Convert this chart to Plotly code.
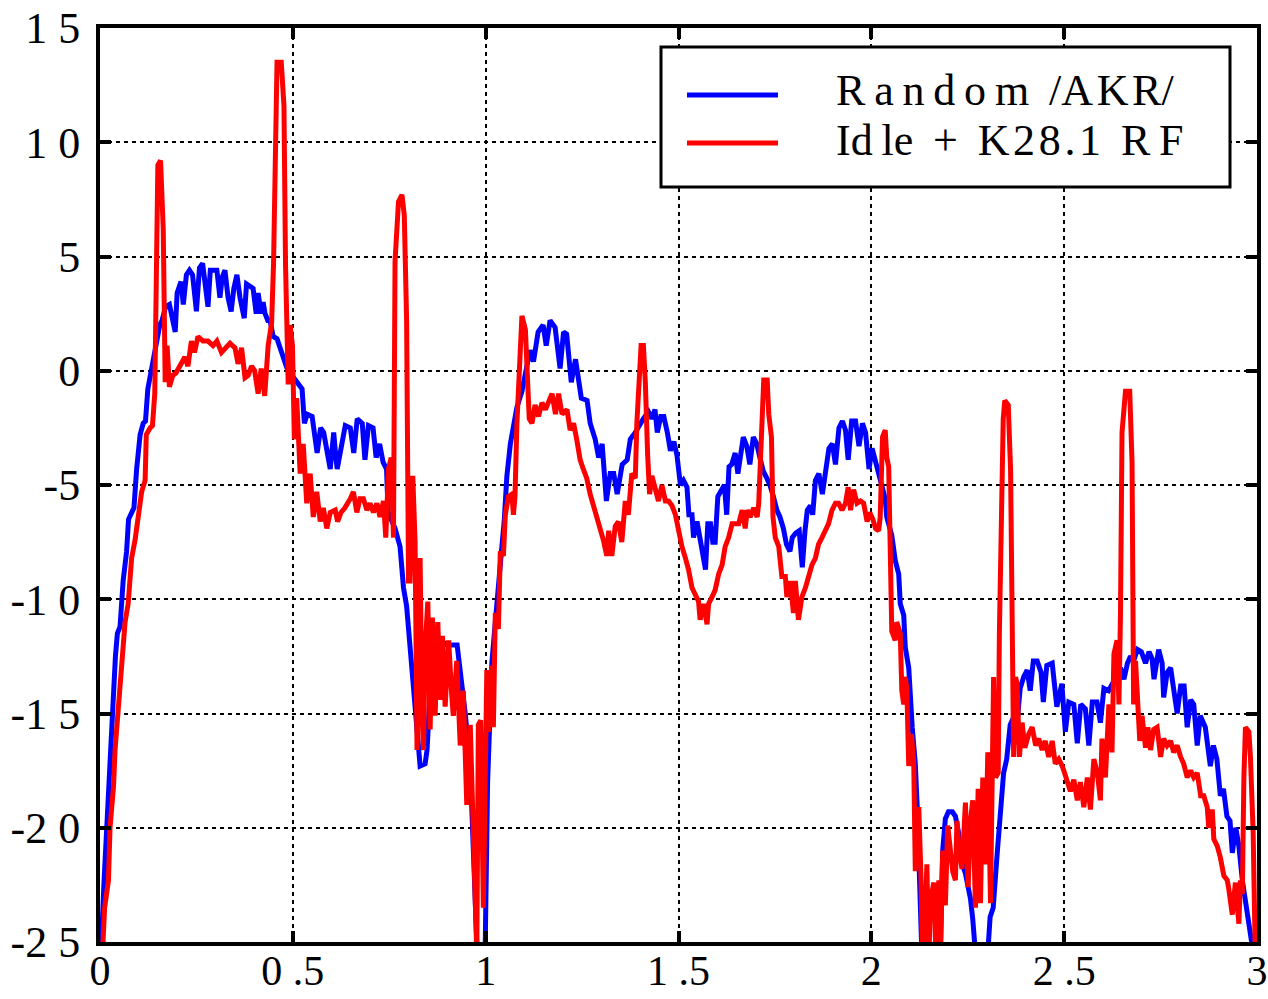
import plotly.graph_objects as go

# ---------------- data ----------------
blue_x = [0.000, 0.004, 0.010, 0.017, 0.026, 0.034, 0.040, 0.045, 0.052, 0.060, 0.069, 0.074, 0.082, 0.088,
          0.095, 0.104, 0.112, 0.118, 0.124, 0.130, 0.140, 0.148, 0.155, 0.161, 0.170, 0.180, 0.195, 0.200,
          0.210, 0.216, 0.224, 0.232, 0.240, 0.250, 0.258, 0.266, 0.272, 0.280, 0.286, 0.295, 0.303, 0.311,
          0.317, 0.324, 0.332, 0.340, 0.347, 0.355, 0.363, 0.374, 0.380, 0.389, 0.397, 0.405, 0.410, 0.418,
          0.423, 0.428, 0.435, 0.441, 0.449, 0.459, 0.467, 0.475, 0.485, 0.493, 0.505,
          0.513, 0.524, 0.530, 0.537, 0.550, 0.563, 0.572, 0.580, 0.597, 0.606, 0.610, 0.615, 0.636, 0.649,
          0.658, 0.667, 0.680, 0.687, 0.696, 0.708, 0.716, 0.725, 0.734, 0.743, 0.747, 0.765, 0.778, 0.787,
          0.795, 0.804, 0.813, 0.821, 0.830, 0.843, 0.848, 0.856, 0.869, 0.882, 0.900, 0.926, 0.934, 0.947,
          0.960, 0.969, 0.978, 0.990, 0.999, 1.005, 1.010, 1.016, 1.025, 1.033, 1.042, 1.048, 1.055, 1.064,
          1.072, 1.081, 1.094, 1.107, 1.115, 1.124, 1.136, 1.149, 1.157, 1.167, 1.180, 1.193, 1.202, 1.210,
          1.222, 1.233, 1.240, 1.248, 1.263, 1.271, 1.284, 1.293, 1.302, 1.313, 1.323, 1.332, 1.341, 1.354,
          1.367, 1.375, 1.388, 1.401, 1.409, 1.422, 1.431, 1.439, 1.445, 1.454, 1.462, 1.471, 1.479, 1.488,
          1.496, 1.505, 1.513, 1.522, 1.527, 1.535, 1.539, 1.548, 1.557, 1.565, 1.570, 1.576, 1.583, 1.589,
          1.595, 1.602, 1.611, 1.619, 1.625, 1.631, 1.638, 1.647, 1.654, 1.660, 1.668, 1.677, 1.685, 1.694,
          1.703, 1.711, 1.720, 1.729, 1.737, 1.746, 1.755, 1.763, 1.772, 1.780, 1.789, 1.795, 1.804, 1.813,
          1.821, 1.828, 1.834, 1.842, 1.848, 1.855, 1.864, 1.873, 1.881, 1.890, 1.899, 1.907, 1.916, 1.925,
          1.933, 1.940, 1.949, 1.959, 1.968, 1.977, 1.985, 1.994, 2.002, 2.015, 2.028, 2.036, 2.040, 2.053,
          2.062, 2.071, 2.075, 2.084, 2.088, 2.097, 2.106, 2.114, 2.119, 2.127, 2.132, 2.178, 2.185, 2.192,
          2.200, 2.210, 2.218, 2.226, 2.234, 2.244, 2.257, 2.263, 2.270, 2.285, 2.300, 2.308, 2.316, 2.326,
          2.334, 2.343, 2.351, 2.360, 2.368, 2.378, 2.386, 2.395, 2.404, 2.412, 2.420, 2.430, 2.440, 2.446,
          2.455, 2.469, 2.481, 2.494, 2.503, 2.512, 2.525, 2.534, 2.543, 2.555, 2.564, 2.573, 2.585, 2.594,
          2.603, 2.615, 2.625, 2.639, 2.646, 2.655, 2.664, 2.672, 2.680, 2.690, 2.700, 2.711, 2.720, 2.728,
          2.733, 2.745, 2.754, 2.758, 2.767, 2.776, 2.785, 2.793, 2.802, 2.811, 2.819, 2.828, 2.836, 2.845,
          2.853, 2.866, 2.879, 2.887, 2.896, 2.905, 2.913, 2.922, 2.930, 2.936, 2.945, 2.953, 2.962, 2.970,
          2.978, 2.987, 2.995]
blue_y = [-26, -25, -22.5, -20, -17.9, -15, -12.5, -11.5, -11.2, -9.2, -7.9, -6.5, -6.2, -6.0,
          -4.3, -2.8, -2.3, -2.2, -0.8, -0.3, 0.5, 1.3, 2.0, 2.2, 2.8, 2.9, 1.7, 3.4,
          3.9, 2.9, 4.2, 4.4, 4.2, 2.6, 4.5, 4.7, 3.8, 2.8, 4.4, 4.4, 4.4, 3.2,
          4.1, 4.4, 3.2, 2.6, 3.6, 4.2, 3.2, 2.3, 3.8, 3.7, 3.6, 2.5, 3.4, 2.5,
          3.0, 2.5, 2.2, 2.2, 1.5, 1.4, 1.0, 0.6, 0.1, -0.1, -0.4,
          -0.6, -0.8, -2.3, -1.9, -2.0, -3.6, -2.5, -2.7, -4.3, -2.7, -3.5, -4.3, -2.4, -2.5,
          -3.6, -2.1, -2.3, -3.9, -2.4, -2.5, -3.8, -3.2, -4.0, -4.3, -6.2, -6.9, -7.7, -9.5,
          -10.3, -12.0, -13.8, -15.3, -17.3, -17.2, -16.6, -14.0, -12.5, -11.8, -12.0, -12.0, -13.1, -15.0,
          -17.3, -21.6, -25.5, -26, -25, -18, -14.9, -12.8, -11.0, -9.2, -7.7, -6.6, -4.6, -3.2,
          -2.3, -1.6, -0.9, 0.2, 0.9, 0.4, 1.7, 2.0, 1.1, 2.2, 1.9, 0.1, 1.7, 1.6,
          -0.5, 0.5, -0.5, -1.2, -1.3, -2.3, -3.0, -3.8, -3.2, -5.7, -4.5, -4.5, -5.4, -4.1,
          -3.9, -3.0, -2.7, -2.3, -2.1, -1.8, -2.1, -1.7, -2.7, -2.0, -2.0, -2.7, -3.5, -3.1,
          -3.7, -5.0, -4.8, -5.1, -6.3, -6.3, -7.3, -6.6, -7.4, -8.0, -8.7, -6.7, -6.7, -7.5,
          -7.5, -5.5, -5.2, -5.0, -6.3, -4.2, -4.1, -3.6, -4.5, -3.9, -2.9, -3.3, -4.1, -2.9,
          -3.2, -3.8, -4.4, -4.7, -5.0, -5.5, -6.1, -6.4, -6.9, -7.6, -7.9, -7.3, -7.1, -7.0,
          -8.6, -7.0, -6.1, -5.9, -6.3, -4.8, -4.5, -5.4, -4.4, -3.4, -3.2, -4.1, -2.5, -2.2,
          -2.6, -3.9, -2.2, -2.2, -3.3, -2.3, -2.7, -4.3, -3.4, -4.3, -5.0, -5.6, -6.4, -7.2,
          -8.3, -8.9, -10.2, -10.7, -12.1, -13.0, -15.6, -17.2, -19.1, -22.6, -26, -26, -21, -19.6,
          -19.3, -19.3, -19.5, -20.2, -21.5, -22.0, -23.1, -24.0, -25.5, -26, -26, -23.9, -23.5, -21.2,
          -19.3, -17.6, -17.0, -15.5, -15.2, -15.4, -13.9, -13.4, -13.1, -14.0, -12.7, -12.7, -13.2, -14.5,
          -12.9, -12.8, -14.7, -13.7, -15.8, -14.5, -14.6, -16.3, -14.6, -14.8, -16.4, -14.5, -14.5, -15.4,
          -13.9, -14.0, -13.7, -13.3, -13.0, -13.5, -12.8, -12.5, -12.7, -12.2, -12.3, -12.8, -12.3, -12.6,
          -13.5, -12.2, -12.8, -14.3, -13.2, -13.0, -14.3, -15.0, -13.8, -13.8, -15.6, -14.4, -14.6, -16.4,
          -15.1, -15.6, -17.3, -16.4, -17.0, -18.6, -18.3, -19.5, -19.7, -21.1, -20.0, -20.8, -22.3, -23.2,
          -24.1, -25.5, -26]

red_x = [0.000, 0.005, 0.012, 0.022, 0.026, 0.035, 0.039, 0.048, 0.056, 0.065, 0.073, 0.082, 0.091, 0.100,
         0.108, 0.117, 0.120, 0.130, 0.136, 0.142, 0.145, 0.150, 0.157, 0.164, 0.169, 0.174, 0.180, 0.189,
         0.197, 0.210, 0.220, 0.228, 0.237, 0.245, 0.254, 0.267, 0.280, 0.293, 0.303, 0.315, 0.324, 0.337,
         0.350, 0.358, 0.367, 0.376, 0.384, 0.393, 0.401, 0.410, 0.418, 0.427, 0.436, 0.445, 0.450, 0.454,
         0.459, 0.470, 0.477, 0.481, 0.484, 0.488, 0.493, 0.499, 0.504, 0.510, 0.519, 0.527, 0.536, 0.545,
         0.553, 0.562, 0.571, 0.579, 0.588, 0.597, 0.610, 0.616, 0.625, 0.635, 0.649, 0.657, 0.666, 0.674,
         0.683, 0.692, 0.700, 0.709, 0.718, 0.726, 0.735, 0.741, 0.748, 0.755, 0.761, 0.765, 0.774, 0.783,
         0.789, 0.795, 0.800, 0.804, 0.811, 0.817, 0.822, 0.826, 0.830, 0.835, 0.839, 0.843, 0.850, 0.856,
         0.862, 0.869, 0.876, 0.882, 0.888, 0.895, 0.904, 0.912, 0.916, 0.925, 0.934, 0.942, 0.951, 0.960,
         0.968, 0.977, 0.981, 0.987, 0.994, 0.998, 1.003, 1.007, 1.016, 1.020, 1.025, 1.033, 1.038, 1.046,
         1.051, 1.059, 1.068, 1.072, 1.076, 1.081, 1.088, 1.094, 1.103, 1.107, 1.113, 1.120, 1.128, 1.137,
         1.146, 1.155, 1.163, 1.172, 1.181, 1.189, 1.198, 1.211, 1.219, 1.228, 1.236, 1.245, 1.253, 1.262,
         1.271, 1.280, 1.288, 1.297, 1.305, 1.314, 1.319, 1.327, 1.336, 1.344, 1.353, 1.362, 1.370, 1.379,
         1.388, 1.392, 1.399, 1.403, 1.409, 1.414, 1.420, 1.425, 1.431, 1.440, 1.448, 1.457, 1.466, 1.474,
         1.483, 1.492, 1.500, 1.509, 1.518, 1.526, 1.535, 1.544, 1.552, 1.556, 1.565, 1.574, 1.578, 1.587,
         1.595, 1.604, 1.613, 1.621, 1.630, 1.639, 1.647, 1.656, 1.665, 1.673, 1.678, 1.686, 1.695, 1.704,
         1.708, 1.715, 1.721, 1.730, 1.734, 1.741, 1.745, 1.751, 1.760, 1.768, 1.777, 1.781, 1.790, 1.798,
         1.803, 1.811, 1.820, 1.829, 1.837, 1.846, 1.855, 1.863, 1.872, 1.881, 1.889, 1.898, 1.907, 1.915,
         1.924, 1.933, 1.940, 1.946, 1.954, 1.963, 1.972, 1.980, 1.989, 1.996, 2.004, 2.011, 2.019, 2.023,
         2.029, 2.036, 2.040, 2.045, 2.049, 2.053, 2.062, 2.066, 2.075, 2.079, 2.084, 2.088, 2.092, 2.097,
         2.104, 2.110, 2.114, 2.123, 2.129, 2.133, 2.140, 2.144, 2.149, 2.153, 2.162, 2.168, 2.175, 2.179,
         2.185, 2.192, 2.198, 2.205, 2.211, 2.218, 2.222, 2.228, 2.235, 2.244, 2.251, 2.257, 2.263, 2.270,
         2.277, 2.283, 2.289, 2.296, 2.302, 2.309, 2.313, 2.317, 2.322, 2.329, 2.332, 2.337, 2.342, 2.346,
         2.355, 2.361, 2.365, 2.369, 2.374, 2.378, 2.384, 2.391, 2.398, 2.408, 2.417, 2.426, 2.434, 2.443,
         2.451, 2.460, 2.469, 2.477, 2.486, 2.495, 2.503, 2.508, 2.516, 2.525, 2.534, 2.542, 2.551, 2.560,
         2.568, 2.577, 2.586, 2.594, 2.598, 2.607, 2.616, 2.624, 2.629, 2.637, 2.642, 2.646, 2.650, 2.659,
         2.670, 2.676, 2.680, 2.685, 2.691, 2.696, 2.702, 2.711, 2.717, 2.724, 2.732, 2.741, 2.750, 2.758,
         2.767, 2.776, 2.784, 2.793, 2.802, 2.810, 2.819, 2.828, 2.836, 2.845, 2.854, 2.862, 2.871, 2.875,
         2.884, 2.888, 2.897, 2.905, 2.914, 2.923, 2.927, 2.936, 2.944, 2.953, 2.957, 2.962, 2.966, 2.970,
         2.979, 2.983, 2.990, 2.996]
red_y = [-26, -26, -23.5, -22.3, -20, -18.2, -16.6, -14.8, -12.8, -11.0, -10.2, -8.2, -7.4, -6.1,
         -5.3, -4.8, -2.8, -2.5, -2.4, -1.0, 4.7, 9.0, 9.2, 6.2, -0.5, 1.1, -0.7, -0.2,
         -0.1, 0.3, 0.6, 0.2, 1.3, 0.8, 1.5, 1.3, 1.3, 1.1, 1.3, 0.8, 1.0, 1.2,
         1.0, 0.3, 1.0, -0.3, -0.2, 0.2, 0.0, -1.0, 0.1, -1.1, 1.1, 2.1, 4.7, 8.5,
         13.5, 13.5, 11.6, 4.7, 2.0, -0.6, 2.0, 1.1, -3.0, -1.2, -4.5, -3.2, -5.8, -4.5,
         -6.4, -5.3, -6.6, -6.0, -6.9, -6.2, -6.1, -6.6, -6.2, -6.0, -5.6, -5.3, -6.2, -5.6,
         -5.6, -6.1, -5.8, -6.2, -5.8, -6.4, -5.7, -7.3, -4.3, -3.8, -7.3, 4.8, 7.4, 7.7,
         6.8, 2.2, -9.2, -9.2, -4.6, -7.5, -16.6, -12.9, -8.2, -15.1, -16.6, -12.1, -10.1, -15.7,
         -10.8, -15.1, -11.0, -14.4, -11.6, -14.7, -11.8, -14.2, -15.1, -12.7, -16.4, -14.0, -19.0, -15.5,
         -19.4, -25.5, -15.5, -15.3, -23.5, -18.5, -13.1, -15.8, -12.9, -15.6, -10.6, -11.3, -7.9, -8.1,
         -6.3, -5.5, -5.4, -6.3, -5.5, -2.3, 0.9, 2.4, 1.8, -0.1, -2.1, -2.3, -1.5, -2.0,
         -1.4, -1.7, -1.3, -1.0, -1.9, -1.0, -1.9, -1.7, -2.6, -2.3, -3.0, -3.9, -4.3, -4.7,
         -5.4, -5.9, -6.5, -7.0, -7.4, -8.1, -7.0, -8.1, -6.8, -6.6, -7.5, -5.7, -6.3, -4.5,
         -4.7, -2.3, -0.5, 1.1, 1.1, -0.5, -3.7, -5.4, -4.6, -5.2, -5.7, -5.0, -5.7, -5.7,
         -5.9, -6.3, -7.1, -7.7, -8.2, -8.7, -9.5, -9.8, -10.1, -10.9, -10.2, -11.1, -10.2, -9.9,
         -9.6, -8.9, -8.5, -7.7, -7.3, -6.7, -6.7, -6.7, -6.1, -6.9, -6.1, -6.4, -6.0, -6.4,
         -5.8, -2.6, -0.4, -0.4, -1.9, -2.9, -6.4, -7.3, -7.7, -9.0, -9.0, -9.9, -9.2, -10.6,
         -9.2, -10.9, -9.9, -9.5, -9.0, -8.5, -8.2, -7.6, -7.3, -7.0, -6.7, -6.1, -5.8, -5.8,
         -6.1, -5.8, -5.1, -6.1, -5.2, -5.8, -5.7, -5.8, -6.6, -6.2, -6.5, -6.9, -7.0, -6.4,
         -2.9, -2.6, -3.8, -4.2, -8.1, -11.4, -11.8, -11.0, -11.5, -14.0, -14.6, -13.4, -13.9, -17.3,
         -15.9, -17.2, -21.9, -19.1, -22.3, -26, -23.8, -21.6, -26, -23.2, -22.4, -26, -22.3, -26,
         -21.0, -23.4, -19.9, -21.0, -21.9, -22.3, -19.7, -21.0, -21.8, -18.9, -22.6, -19.7, -18.8, -23.5,
         -18.3, -23.3, -17.8, -21.6, -16.7, -23.3, -15.0, -13.4, -17.8, -17.6, -11.5, -5.1, -2.1, -1.3,
         -1.5, -4.3, -11.5, -16.9, -13.4, -13.7, -16.9, -15.4, -16.5, -15.9, -15.6, -16.4, -16.1, -16.6,
         -16.2, -16.9, -16.2, -17.2, -17.0, -17.3, -17.7, -18.0, -18.4, -17.9, -18.8, -18.0, -19.1, -17.8,
         -19.2, -17.0, -17.6, -18.8, -16.1, -17.8, -14.6, -16.7, -12.4, -11.8, -14.6, -10.7, -2.7, -0.9,
         -0.9, -4.0, -14.6, -12.7, -14.3, -16.2, -15.1, -16.5, -15.6, -16.6, -15.7, -15.6, -16.9, -16.1,
         -16.4, -16.2, -16.7, -16.4, -16.9, -17.2, -17.8, -17.5, -17.8, -17.6, -18.6, -18.6, -19.1, -20.0,
         -19.2, -20.5, -20.8, -21.3, -22.1, -22.3, -22.7, -23.8, -22.4, -24.2, -22.3, -22.9, -17.8, -15.6,
         -15.8, -16.9, -20.2, -26]

series_names = ["Random /AKR/", "Idle + K28.1 RF"]
legend_labels = ["R\u2009a\u2009n\u2009d\u2009o\u2009m \u2009/A\u200aK\u200aR/",
                 "Id\u2009le \u2009+ \u2009K\u200a2\u200a8\u200a.\u200a1 \u2009R\u2009F"]
x_tick_vals = [0, 0.5, 1, 1.5, 2, 2.5, 3]
x_tick_text = ["0", "0 .5", "1", "1 .5", "2", "2 .5", "3"]
y_tick_vals = [15, 10, 5, 0, -5, -10, -15, -20, -25]
y_tick_text = ["1 5", "1 0", "5", "0", "-5", "-1 0", "-1 5", "-2 0", "-2 5"]

BLUE = "#0000ff"
RED = "#ff0000"
FONT = "Liberation Serif"

fig = go.Figure()
fig.add_trace(go.Scatter(x=blue_x, y=blue_y, mode="lines", name=series_names[0],
                         line=dict(color=BLUE, width=5), showlegend=False))
fig.add_trace(go.Scatter(x=red_x, y=red_y, mode="lines", name=series_names[1],
                         line=dict(color=RED, width=5), showlegend=False))

axis_common = dict(
    showline=True, linecolor="black", linewidth=4, mirror="ticks",
    ticks="inside", ticklen=11, tickwidth=4, tickcolor="black",
    showgrid=True, gridcolor="black", gridwidth=2, griddash="4px,4px",
    zeroline=False, automargin=False,
)
fig.update_xaxes(range=[0, 3], tickvals=x_tick_vals, ticktext=x_tick_text,
                 ticklabelstandoff=-11, tickfont=dict(family=FONT, size=42, color="black"),
                 **axis_common)
fig.update_yaxes(range=[-25, 15], tickvals=y_tick_vals, ticktext=y_tick_text,
                 ticklabelstandoff=7, tickfont=dict(family=FONT, size=44, color="black"),
                 **axis_common)

# legend box drawn by hand (paper coordinates)
W0, W1 = 100, 1257   # plot area pixel extents
H0, H1 = 28, 942


def px(x):
    return (x - W0) / (W1 - W0)


def py(y):
    return (H1 - y) / (H1 - H0)


shapes = [
    dict(type="rect", xref="paper", yref="paper", x0=px(661), x1=px(1230), y0=py(187), y1=py(47),
         line=dict(color="black", width=3), fillcolor="white", layer="above"),
    dict(type="line", xref="paper", yref="paper", x0=px(687), x1=px(778), y0=py(95), y1=py(95),
         line=dict(color=BLUE, width=5), layer="above"),
    dict(type="line", xref="paper", yref="paper", x0=px(687), x1=px(778), y0=py(143), y1=py(143),
         line=dict(color=RED, width=5), layer="above"),
]
annotations = [
    dict(xref="paper", yref="paper", x=px(834), y=py(91), text=legend_labels[0], showarrow=False,
         xanchor="left", yanchor="middle", font=dict(family=FONT, size=44, color="black")),
    dict(xref="paper", yref="paper", x=px(834), y=py(140), text=legend_labels[1], showarrow=False,
         xanchor="left", yanchor="middle", font=dict(family=FONT, size=44, color="black")),
]

fig.update_layout(
    width=1268, height=999,
    margin=dict(l=W0, r=1268 - W1, t=H0, b=999 - H1, autoexpand=False),
    paper_bgcolor="white", plot_bgcolor="white",
    shapes=shapes, annotations=annotations,
    showlegend=False,
)

fig.write_html("out.html", config={"displayModeBar": False},
               post_script="document.body.style.margin='0';document.body.style.overflow='hidden';")
